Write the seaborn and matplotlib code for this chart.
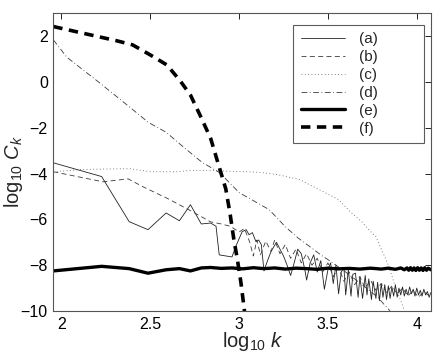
import matplotlib
matplotlib.use("Agg")
import matplotlib.pyplot as plt
import seaborn as sns
import pandas as pd

# ---- data (log10 k, log10 C_k) ----
a_x = [1.954, 2.226, 2.381, 2.487, 2.589, 2.664, 2.726, 2.787, 2.84, 2.87, 2.888, 2.96, 2.98,
       3.017, 3.04, 3.056, 3.075, 3.095, 3.11, 3.125, 3.14, 3.16, 3.18, 3.21, 3.23, 3.25, 3.27,
       3.29, 3.31, 3.33, 3.35, 3.37, 3.38, 3.40, 3.42, 3.44, 3.46, 3.48, 3.50, 3.515, 3.53,
       3.545, 3.56, 3.575, 3.59, 3.60, 3.615, 3.63, 3.64, 3.655, 3.67, 3.68, 3.695, 3.71, 3.72,
       3.73, 3.745, 3.755, 3.77, 3.78, 3.79, 3.80, 3.81, 3.82, 3.83, 3.84, 3.85, 3.86, 3.87,
       3.88, 3.89, 3.90, 3.91, 3.92, 3.93, 3.94, 3.95, 3.96, 3.97, 3.98, 3.99, 4.00, 4.01,
       4.02, 4.03, 4.04, 4.05, 4.06, 4.07, 4.079]
a_y = [-3.53, -4.13, -6.10, -6.45, -5.72, -6.06, -5.36, -6.20, -6.16, -6.30, -7.55, -7.64, -7.20,
       -6.54, -6.45, -6.67, -6.58, -6.98, -6.90, -7.10, -8.25, -7.80, -7.40, -7.00, -7.30, -7.60,
       -8.00, -8.45, -7.90, -7.30, -7.50, -8.20, -8.65, -7.90, -7.55, -8.30, -7.80, -9.05, -8.20,
       -7.90, -8.80, -8.00, -9.25, -8.30, -8.10, -9.30, -8.20, -9.35, -8.40, -8.35, -9.40, -8.50,
       -9.45, -8.45, -9.30, -8.60, -9.50, -8.70, -9.45, -8.75, -9.55, -8.80, -9.40, -8.85, -9.50,
       -8.90, -9.45, -8.95, -9.35, -8.85, -9.40, -9.00, -9.30, -8.95, -9.35, -9.05, -9.30, -8.95,
       -9.25, -9.05, -9.35, -9.00, -9.30, -9.10, -9.35, -9.05, -9.30, -9.15, -9.40, -9.20]

b_x = [1.954, 2.234, 2.375, 2.46, 2.60, 2.726, 2.84, 2.90, 2.95, 3.00, 3.03, 3.06, 3.08, 3.10,
       3.12, 3.15, 3.18, 3.20, 3.23, 3.26, 3.29, 3.32, 3.35, 3.38, 3.41, 3.44, 3.47, 3.50, 3.53,
       3.56, 3.59, 3.62, 3.65, 3.68, 3.71, 3.74, 3.77, 3.80, 3.83, 3.86, 3.89, 3.92, 3.95, 3.98,
       4.01, 4.04, 4.079]
b_y = [-3.92, -4.36, -4.23, -4.58, -5.10, -5.62, -6.11, -6.20, -6.30, -6.55, -6.40, -7.00, -7.60,
       -6.90, -7.55, -6.95, -7.40, -6.90, -7.50, -7.10, -7.70, -7.30, -7.90, -7.50, -8.00, -7.70,
       -8.30, -7.90, -8.50, -8.10, -8.70, -8.30, -8.85, -8.50, -9.00, -8.65, -9.10, -8.80, -9.20,
       -8.90, -9.25, -9.00, -9.35, -9.10, -9.40, -9.15, -9.40]

c_x = [1.954, 2.12, 2.25, 2.386, 2.50, 2.65, 2.73, 2.84, 2.95, 3.05, 3.12, 3.22, 3.34, 3.45,
       3.56, 3.63, 3.69, 3.73, 3.77, 3.81, 3.84, 3.88, 3.93]
c_y = [-3.92, -3.82, -3.80, -3.79, -3.92, -3.92, -3.86, -3.86, -3.90, -3.92, -3.95, -4.05, -4.26,
       -4.70, -5.14, -5.70, -6.10, -6.45, -6.76, -7.46, -7.99, -8.95, -9.96]

d_x = [1.954, 2.03, 2.21, 2.40, 2.49, 2.59, 2.68, 2.79, 2.89, 3.00, 3.10, 3.17, 3.26, 3.33, 3.40,
       3.46, 3.52, 3.60, 3.70, 3.78, 3.85]
d_y = [1.84, 1.08, -0.01, -1.20, -1.77, -2.20, -2.80, -3.50, -3.96, -4.83, -5.27, -5.58, -6.32,
       -6.80, -7.20, -7.55, -7.86, -8.30, -8.90, -9.40, -10.0]

e_x = [1.954, 2.226, 2.381, 2.487, 2.589, 2.664, 2.726, 2.787, 2.84, 2.90, 2.96, 3.02, 3.08,
       3.14, 3.20, 3.26, 3.32, 3.38, 3.44, 3.50, 3.56, 3.62, 3.68, 3.74, 3.80, 3.84, 3.88, 3.91,
       3.93, 3.945, 3.955, 3.965, 3.975, 3.985, 3.995, 4.005, 4.015, 4.025, 4.035, 4.045, 4.055,
       4.065, 4.079]
e_y = [-8.25, -8.05, -8.15, -8.35, -8.20, -8.15, -8.25, -8.12, -8.10, -8.14, -8.12, -8.16, -8.11,
       -8.15, -8.12, -8.17, -8.13, -8.15, -8.18, -8.13, -8.16, -8.14, -8.17, -8.13, -8.17, -8.13,
       -8.18, -8.12, -8.20, -8.12, -8.22, -8.11, -8.22, -8.12, -8.23, -8.11, -8.22, -8.12, -8.23,
       -8.11, -8.22, -8.13, -8.20]

f_x = [1.954, 2.12, 2.31, 2.40, 2.50, 2.594, 2.67, 2.726, 2.78, 2.84, 2.885, 2.925, 2.95, 2.97,
       2.99, 3.01, 3.035]
f_y = [2.42, 2.13, 1.80, 1.62, 1.18, 0.74, 0.03, -0.57, -1.45, -2.47, -3.64, -4.67, -5.80, -6.86,
       -7.74, -8.75, -10.3]

labels = ["(a)", "(b)", "(c)", "(d)", "(e)", "(f)"]
x_ticks = [2, 2.5, 3, 3.5, 4]
x_tick_labels = ["2", "2.5", "3", "3.5", "4"]
y_ticks = [-10, -8, -6, -4, -2, 0, 2]
y_tick_labels = ["\u221210", "\u22128", "\u22126", "\u22124", "\u22122", "0", "2"]

sns.set_style("white")
plt.rcParams["font.family"] = ["Liberation Sans", "DejaVu Sans"]
plt.rcParams["mathtext.fontset"] = "custom"
plt.rcParams["mathtext.rm"] = "Liberation Sans"
plt.rcParams["mathtext.it"] = "Liberation Sans:italic"

fig = plt.figure(figsize=(4.36, 3.58), dpi=100)
ax = fig.add_axes([0.1223, 0.1313, 0.8657, 0.8317])

series = [
    (a_x, a_y, dict(color="#222222", linewidth=0.6, linestyle="-")),
    (b_x, b_y, dict(color="#3a3a3a", linewidth=0.6, linestyle=(0, (6, 4)))),
    (c_x, c_y, dict(color="#555555", linewidth=0.6, linestyle=(0, (1, 3)))),
    (d_x, d_y, dict(color="#3a3a3a", linewidth=0.6, linestyle=(0, (7, 3, 1, 3)))),
    (e_x, e_y, dict(color="black", linewidth=2.4, linestyle="-")),
    (f_x, f_y, dict(color="black", linewidth=2.6, linestyle=(0, (2.6, 1.8)))),
]
for (xs, ys, style), lab in zip(series, labels):
    df = pd.DataFrame({"x": xs, "y": ys})
    sns.lineplot(data=df, x="x", y="y", ax=ax, estimator=None, sort=False,
                 label=lab, **style)

ax.set_xlim(1.954, 4.079)
ax.set_ylim(-10, 3)
ax.set_xticks(x_ticks)
ax.set_xticklabels(x_tick_labels)
ax.set_yticks(y_ticks)
ax.set_yticklabels(y_tick_labels)
ax.tick_params(direction="in", length=4, width=0.6, top=True, right=True,
               labelsize=11.5, colors="black", pad=4)
for s in ax.spines.values():
    s.set_color("#555555")
    s.set_linewidth(0.8)
ax.set_xlabel(r"log$_{10}$ $k$", fontsize=14.5)
ax.set_ylabel(r"log$_{10}$ $C_k$", fontsize=14.5)
ax.xaxis.set_label_coords(0.53, -0.065)
ax.yaxis.set_label_coords(-0.075, 0.47)

leg = ax.legend(loc="upper left", bbox_to_anchor=(0.635, 0.0, 0.347, 0.961),
                mode="expand", fontsize=11, frameon=True, fancybox=False,
                handlelength=2.9, handletextpad=0.95, labelspacing=0.25,
                borderpad=0.5, borderaxespad=0)
leg.get_frame().set_edgecolor("#333333")
leg.get_frame().set_linewidth(0.8)
fig.savefig("out.png", dpi=100)
